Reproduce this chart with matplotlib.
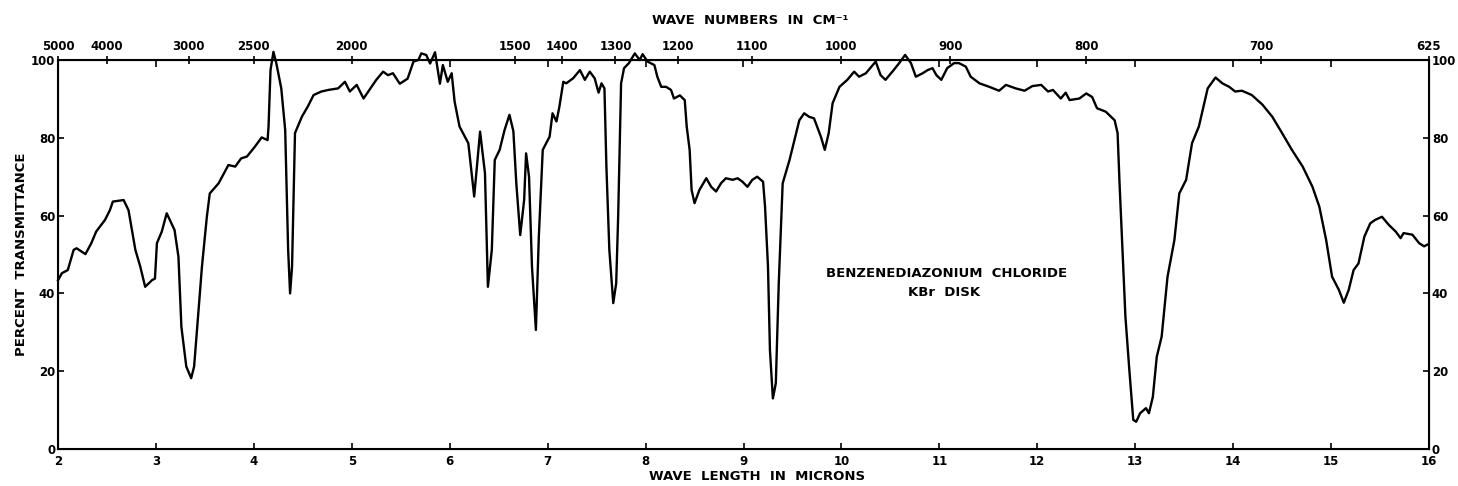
import matplotlib
matplotlib.use("Agg")
import matplotlib.pyplot as plt

# Wavelength (microns) and percent transmittance
wavelength = [
    2.00, 2.04, 2.10, 2.16, 2.19, 2.28, 2.34, 2.39, 2.48, 2.53, 2.56, 2.67, 2.72,
    2.79, 2.84, 2.89, 2.96, 2.99, 3.01, 3.06, 3.11, 3.19, 3.23, 3.26, 3.31, 3.36,
    3.39, 3.43, 3.47, 3.52, 3.55, 3.64, 3.74, 3.81, 3.87, 3.93, 4.01, 4.08, 4.14,
    4.15, 4.17, 4.20, 4.23, 4.28, 4.32, 4.35, 4.37, 4.39, 4.42, 4.49, 4.55, 4.61,
    4.69, 4.76, 4.86, 4.93, 4.98, 5.05, 5.12, 5.18, 5.25, 5.32, 5.37, 5.42, 5.49,
    5.57, 5.63, 5.68, 5.71, 5.76, 5.80, 5.85, 5.90, 5.93, 5.98, 6.02, 6.05, 6.10,
    6.19, 6.25, 6.31, 6.36, 6.39, 6.43, 6.46, 6.51, 6.56, 6.61, 6.65, 6.68, 6.72,
    6.76, 6.78, 6.81, 6.84, 6.88, 6.91, 6.95, 7.02, 7.05, 7.09, 7.12, 7.16, 7.19,
    7.26, 7.33, 7.38, 7.43, 7.48, 7.52, 7.55, 7.58, 7.60, 7.63, 7.67, 7.70, 7.72,
    7.75, 7.78, 7.83, 7.89, 7.94, 7.97, 8.02, 8.09, 8.12, 8.16, 8.21, 8.26, 8.29,
    8.35, 8.40, 8.42, 8.45, 8.47, 8.50, 8.55, 8.62, 8.67, 8.72, 8.77, 8.82, 8.89,
    8.94, 8.99, 9.04, 9.09, 9.14, 9.20, 9.22, 9.25, 9.27, 9.30, 9.33, 9.36, 9.40,
    9.47, 9.52, 9.57, 9.62, 9.67, 9.72, 9.79, 9.83, 9.87, 9.91, 9.98, 10.06, 10.13,
    10.18, 10.25, 10.35, 10.40, 10.45, 10.52, 10.59, 10.65, 10.71, 10.76, 10.83,
    10.88, 10.93, 10.97, 11.02, 11.08, 11.15, 11.20, 11.27, 11.32, 11.41, 11.51,
    11.61, 11.68, 11.78, 11.87, 11.95, 12.04, 12.11, 12.16, 12.24, 12.29, 12.33,
    12.43, 12.50, 12.56, 12.61, 12.70, 12.79, 12.82, 12.84, 12.87, 12.90, 12.94,
    12.98, 13.01, 13.05, 13.11, 13.14, 13.18, 13.22, 13.27, 13.33, 13.40, 13.45,
    13.52, 13.58, 13.65, 13.74, 13.82, 13.89, 13.96, 14.02, 14.09, 14.19, 14.30,
    14.40, 14.50, 14.60, 14.71, 14.81, 14.88, 14.95, 15.01, 15.08, 15.13, 15.18,
    15.23, 15.28, 15.34, 15.40, 15.45, 15.52, 15.59, 15.66, 15.71, 15.74, 15.83,
    15.90, 15.95, 15.98,
]
transmittance = [
    43.4, 45.2, 46.0, 51.2, 51.6, 50.1, 52.9, 55.9, 58.9, 61.4, 63.6, 64.0, 61.4,
    51.2, 46.9, 41.7, 43.4, 43.8, 52.9, 55.9, 60.6, 56.3, 49.4, 31.4, 21.2, 18.2,
    21.2, 34.0, 46.9, 59.7, 65.7, 68.3, 73.0, 72.6, 74.7, 75.2, 77.7, 80.1, 79.4,
    82.9, 97.4, 102.1, 99.1, 92.7, 82.0, 51.2, 40.0, 46.9, 81.2, 85.4, 88.0, 91.0,
    91.9, 92.3, 92.7, 94.4, 91.9, 93.6, 90.1, 92.3, 94.9, 97.0, 96.1, 96.6, 93.9,
    95.2, 99.6, 100.0, 101.7, 101.3, 99.1, 102.0, 93.9, 98.7, 94.4, 96.6, 89.3, 82.9,
    78.6, 64.9, 81.6, 70.9, 41.7, 51.2, 74.3, 76.9, 82.0, 85.9, 81.7, 68.3, 55.0,
    64.0, 76.0, 70.0, 46.9, 30.6, 54.6, 76.9, 80.3, 86.3, 84.2, 88.0, 94.4, 94.0,
    95.3, 97.4, 94.9, 97.0, 95.3, 91.6, 94.0, 92.7, 72.6, 51.2, 37.5, 42.6, 59.7,
    94.0, 97.9, 99.2, 101.7, 100.0, 101.5, 99.6, 98.7, 95.7, 93.1, 93.1, 92.3, 90.1,
    90.9, 89.7, 82.9, 76.9, 66.6, 63.2, 66.6, 69.6, 67.4, 66.2, 68.3, 69.6, 69.2,
    69.6, 68.7, 67.4, 69.2, 70.0, 68.7, 62.3, 46.9, 25.4, 13.0, 16.9, 42.6, 68.3,
    74.3, 79.4, 84.5, 86.3, 85.4, 85.0, 80.3, 76.9, 81.2, 88.9, 93.1, 94.9, 97.0,
    95.7, 96.6, 99.6, 96.1, 94.9, 97.0, 99.2, 101.3, 99.2, 95.7, 96.6,
    97.4, 97.9, 96.1, 94.9, 97.9, 99.2, 99.2, 98.3, 95.7, 94.0, 93.1,
    92.1, 93.6, 92.7, 92.1, 93.3, 93.6, 91.9, 92.3, 90.1, 91.6, 89.7,
    90.1, 91.4, 90.5, 87.6, 86.7, 84.5, 81.2, 68.3, 51.2, 34.0, 20.3,
    7.5, 7.0, 9.2, 10.5, 9.2, 13.4, 23.7, 28.9, 44.3, 53.7, 65.7,
    69.2, 78.6, 82.9, 92.7, 95.5, 94.0, 93.1, 91.9, 92.1, 91.0, 88.5,
    85.4, 81.2, 76.9, 72.6, 67.4, 62.3, 53.7, 44.3, 40.9, 37.6, 40.9,
    46.0, 47.7, 54.6, 58.0, 58.9, 59.7, 57.6, 55.9, 54.2, 55.5, 55.1,
    52.9, 52.1, 52.5,
]

micron_ticks = list(range(2, 17))
percent_ticks = [0, 20, 40, 60, 80, 100]
wavenumber_ticks = [5000, 4000, 3000, 2500, 2000, 1500, 1400, 1300, 1200,
                    1100, 1000, 900, 800, 700, 625]

plt.rcParams['font.family'] = ['DejaVu Sans']
plt.rcParams['font.weight'] = 'bold'

fig = plt.figure(figsize=(14.58, 4.86), dpi=100)
ax = fig.add_axes([58 / 1458, 1 - 449 / 486, (1429 - 58) / 1458, (449 - 60) / 486])

ax.plot(wavelength, transmittance, color="black", lw=1.7, clip_on=False,
        solid_joinstyle='round')
ax.set_xlim(2, 16)
ax.set_ylim(0, 100)

for s in ax.spines.values():
    s.set_linewidth(1.5)

ax.set_xticks(micron_ticks)
ax.set_xticklabels([str(t) for t in micron_ticks])
ax.set_yticks(percent_ticks)
ax.set_yticklabels([str(t) for t in percent_ticks])
ax.tick_params(axis='both', direction='in', length=4, width=1.2, labelsize=8.5)
ax.tick_params(axis='x', pad=4, top=False)
ax.tick_params(axis='y', pad=2, left=True, right=True,
               labelleft=True, labelright=True)

ax2 = ax.twiny()
ax2.set_xlim(2, 16)
ax2.set_xticks([10000 / w for w in wavenumber_ticks])
ax2.set_xticklabels([str(w) for w in wavenumber_ticks])
ax2.set_xticks(micron_ticks[1:-1], minor=True)
ax2.tick_params(axis='x', which='major', direction='inout', length=6, width=1.2,
                labelsize=8.5, pad=2)
ax2.tick_params(axis='x', which='minor', direction='in', length=5, width=1.2)

fig.text(750 / 1458, 1 - 20 / 486, "WAVE  NUMBERS  IN  CM⁻¹", ha='center',
         va='center', fontsize=9.5, fontweight='bold')
fig.text(757 / 1458, 1 - 476 / 486, "WAVE  LENGTH  IN  MICRONS", ha='center',
         va='center', fontsize=9.5, fontweight='bold')
fig.text(22 / 1458, 1 - 254 / 486, "PERCENT  TRANSMITTANCE", ha='center',
         va='center', rotation=90, fontsize=9.5, fontweight='bold')

ax.text(11.07, 45.0, "BENZENEDIAZONIUM  CHLORIDE", ha='center', va='center',
        fontsize=9.5, fontweight='bold')
ax.text(11.05, 40.2, "KBr  DISK", ha='center', va='center',
        fontsize=9.5, fontweight='bold')

fig.savefig("out.png", dpi=100)
